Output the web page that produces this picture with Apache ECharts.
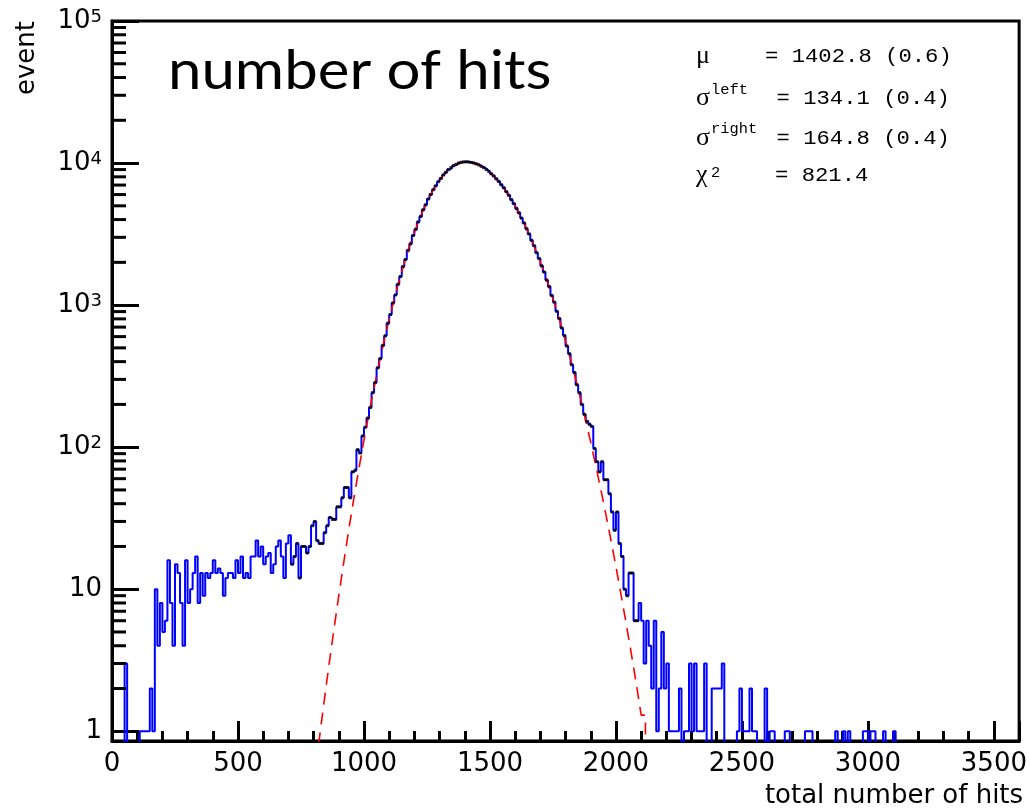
<!DOCTYPE html>
<html><head><meta charset="utf-8">
<script src="https://cdn.jsdelivr.net/npm/echarts@6/dist/echarts.min.js"></script>
<style>html,body{margin:0;padding:0;background:#fff}#c{width:1030px;height:809px}</style>
</head><body><div id="c"></div>
<script>
// ---------------- data ----------------
const binWidth = 10;            // histogram bin width (total number of hits)
// event counts per bin, bins of width 10 starting at 0
const counts = [
  0,0,0,0,0,3,0,0,0,0,
  0,1,1,1,1,2,1,10,4,8,
  5,6,16,8,4,15,13,8,4,16,
  8,10,13,17,8,13,9,13,12,13,
  16,13,14,13,9,12,13,13,12,16,
  13,17,12,13,12,17,17,22,17,20,
  15,17,18,13,15,20,22,17,12,21,
  24,15,17,21,12,20,20,18,20,28,
  30,22,21,21,25,28,32,31,31,38,
  38,44,52,52,44,67,69,96,91,120,
  138,160,190,242,285,362,420,520,608,745,
  858,1035,1180,1402,1590,1870,2095,2430,2700,3090,
  3410,3850,4210,4690,5080,5580,6000,6500,6910,7400,
  7800,8250,8600,8990,9280,9590,9790,10000,10120,10190,
  10210,10180,10100,10010,9860,9710,9490,9280,9000,8730,
  8410,8110,7750,7420,7040,6700,6290,5930,5520,5180,
  4790,4460,4100,3790,3450,3170,2860,2620,2340,2130,
  1890,1710,1500,1350,1170,1050,905,805,690,610,
  515,455,380,335,275,242,200,170,152,145,
  140,98,79,67,79,59,59,47,35,26,
  35,21,17,10,9,13,13,6,6,8,
  6,3,6,4,2,6,1,2,5,2,
  3,1,1,1,1,2,0,1,1,3,
  1,3,1,1,1,3,0,0,2,2,
  2,2,3,0,0,0,0,0,1,2,
  1,1,1,2,1,1,0,0,0,2,
  0,1,1,0,0,0,0,1,1,0,
  0,0,0,0,0,1,1,1,0,0,
  0,0,0,0,0,0,0,1,0,0,
  1,0,1,0,0,0,0,0,1,1,
  0,1,1,0,0,0,1,0,0,0,
  1,0,0,0,0,0,0,0,0,0,
  0,0,0,0,0,0,0,0,0,0,
  0,0,0,0,0,0,0,0,0,0,
  0,0,0,0,0,0,0,0,0,0,
  0,0,0,0,0,0,0,0,0,0
];
// bins drawn with black markers (first, last)
const markerBins = [71, 208];
// bifurcated-gaussian fit curve
const fitX = [820,840,860,880,900,920,940,960,980,1000,1020,1040,1060,1080,1100,1120,1140,1160,1180,1200,
  1220,1240,1260,1280,1300,1320,1340,1360,1380,1400,1420,1440,1460,1480,1500,1520,1540,1560,1580,1600,
  1620,1640,1660,1680,1700,1720,1740,1760,1780,1800,1820,1840,1860,1880,1900,1920,1940,1960,1980,2000,
  2020,2040,2060,2080,2100,2117,2117];
const fitY = [0.81,1.53,2.83,5.1,9.0,15.6,26.5,43.7,70.8,112,174,262,389,563,797,1104,1496,1980,2567,3251,
  4028,4882,5786,6707,7603,8430,9140,9694,10053,10198,10145,9943,9603,9140,8572,7921,7212,6472,5722,4986,
  4280,3620,3018,2479,2006,1600,1258,974,743,559,414,302,217,154,108,74,50.3,33.6,22.2,14.4,
  9.2,5.8,3.6,2.2,1.3,1.3,0];
const titleText = 'number of hits';
const xTitle = 'total number of hits';
const yTitle = 'event';
const stats = [
  {sym: 'μ', sup: '',      val: '= 1402.8 (0.6)'},
  {sym: 'σ', sup: 'left',  val: '= 134.1 (0.4)'},
  {sym: 'σ', sup: 'right', val: '= 164.8 (0.4)'},
  {sym: 'χ', sup: '2',     val: '= 821.4'}
];
const yMin = 0.854, yMax = 100000, xMin = 0, xMax = 3600, xStep = 500;

// ---------------- build ----------------
const below = yMin * 0.4;   // empty bins go below the frame (clipped)
const histLine = counts.map((c, i) => [i * binWidth, c > 0 ? c : below]);
histLine.push([counts.length * binWidth, below]);
const markers = [];
for (let i = markerBins[0]; i <= markerBins[1]; i++) if (counts[i] > 0) markers.push([(i + 0.5) * binWidth, counts[i]]);
const fitLine = fitX.map((x, i) => [x, fitY[i] > 0 ? fitY[i] : below]);
const minorY = [];
for (let e = 0; e < 5; e++) for (let k = 2; k <= 9; k++) minorY.push([0, k * Math.pow(10, e)]);

const AX = 'DejaVu Sans';
const yLabel = v => {
  const l = Math.log10(v), e = Math.round(l);
  if (Math.abs(l - e) > 1e-6) return '';
  if (e === 0) return '{p|1}';
  if (e === 1) return '{p|10}';
  return '{b|10}{s|' + e + '}';
};

const graphic = [{
  type: 'text', x: 168, y: 71, scaleX: 1.09,
  style: {text: titleText, fontFamily: 'Lato', fontSize: 55, fill: '#000', align: 'left', verticalAlign: 'middle'}
}];
const rowY = [57, 99, 139, 176];
const valX = [765, 776.5, 776.5, 775];
const supDy = [0, -9, -10, -3];
stats.forEach((s, i) => {
  graphic.push({type: 'text', x: 696, y: rowY[i] - 1, style: {text: s.sym, fontFamily: 'Liberation Serif', fontSize: 26, fill: '#000', align: 'left', verticalAlign: 'middle'}});
  if (s.sup) graphic.push({type: 'text', x: 711, y: rowY[i] + supDy[i], scaleX: 1.1, style: {text: s.sup, fontFamily: 'Liberation Mono', fontSize: 14, fill: '#000', align: 'left', verticalAlign: 'middle'}});
  graphic.push({type: 'text', x: valX[i], y: rowY[i], scaleX: 1.14, style: {text: s.val, fontFamily: 'Liberation Mono', fontSize: 19.5, fill: '#000', align: 'left', verticalAlign: 'middle'}});
});

const option = {
  animation: false,
  backgroundColor: '#fff',
  grid: {left: 112, right: 8, top: 18, bottom: 67.5, show: true, borderColor: '#000', borderWidth: 3},
  xAxis: {
    type: 'value', min: xMin, max: xMax, interval: xStep,
    name: xTitle, nameLocation: 'end', nameGap: 4,
    nameTextStyle: {fontFamily: AX, fontSize: 26, color: '#000', align: 'right', verticalAlign: 'top', padding: [42, 0, 0, 0]},
    axisLine: {show: true, onZero: false, lineStyle: {color: '#000', width: 3}},
    axisTick: {show: true, inside: true, length: 20, lineStyle: {color: '#000', width: 3}},
    minorTick: {show: true, splitNumber: 5, length: 10, lineStyle: {color: '#000', width: 3}},
    axisLabel: {fontFamily: AX, fontSize: 26, color: '#000', margin: 10, showMaxLabel: false, formatter: v => String(v)},
    splitLine: {show: false}, minorSplitLine: {show: false}
  },
  yAxis: {
    type: 'log', logBase: 10, min: yMin, max: yMax,
    name: yTitle, nameLocation: 'end', nameGap: 0, nameRotate: 90,
    nameTextStyle: {fontFamily: AX, fontSize: 26, color: '#000', align: 'right', verticalAlign: 'bottom', padding: [0, 0, 72, 0]},
    axisLine: {show: true, onZero: false, lineStyle: {color: '#000', width: 3}},
    axisTick: {show: true, inside: true, length: 27, lineStyle: {color: '#000', width: 3}},
    axisLabel: {
      formatter: yLabel, margin: 10, showMinLabel: false, color: '#000',
      rich: {
        p: {fontFamily: AX, fontSize: 26, color: '#000'},
        b: {fontFamily: AX, fontSize: 26, color: '#000', lineHeight: 26, padding: [8, 0, 0, 0], verticalAlign: 'bottom'},
        s: {fontFamily: AX, fontSize: 18, color: '#000', lineHeight: 18, verticalAlign: 'top'}
      }
    },
    splitLine: {show: false}
  },
  graphic: graphic,
  series: [
    {type: 'line', name: 'hist', data: histLine, step: 'end', showSymbol: false, symbol: 'none', clip: true,
     lineStyle: {color: '#0000ff', width: 2}, z: 2},
    {type: 'scatter', name: 'points', data: markers, symbol: 'rect', symbolSize: [3, 3], clip: true,
     itemStyle: {color: '#000'}, z: 4},
    {type: 'line', name: 'fit', data: fitLine, showSymbol: false, symbol: 'none', clip: true,
     lineStyle: {color: '#ff0000', width: 1.6, type: [12, 8]}, z: 3},
    {type: 'custom', name: 'yminor', data: minorY, silent: true, z: 5,
     renderItem: (params, api) => {
       const p = api.coord([0, api.value(1)]);
       return {type: 'line', shape: {x1: p[0], y1: p[1], x2: p[0] + 14, y2: p[1]}, style: {stroke: '#000', lineWidth: 3}};
     }}
  ]
};
const chart = echarts.init(document.getElementById('c'));
chart.setOption(option);
</script></body></html>
